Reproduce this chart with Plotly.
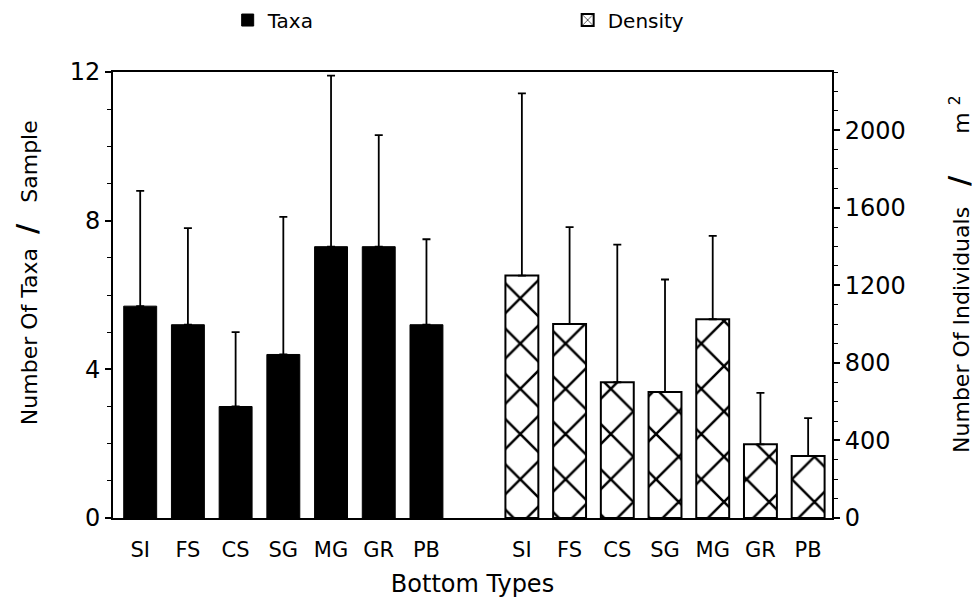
import plotly.graph_objects as go

categories = ["SI", "FS", "CS", "SG", "MG", "GR", "PB"]
taxa_mean = [5.7, 5.2, 3.0, 4.4, 7.3, 7.3, 5.2]
taxa_upper = [8.8, 7.8, 5.0, 8.1, 11.9, 10.3, 7.5]
density_mean = [1250, 1000, 700, 650, 1025, 380, 320]
density_upper = [2190, 1500, 1410, 1230, 1455, 645, 515]

taxa_x = list(range(0, 7))
dens_x = list(range(8, 15))

taxa_err = [u - m for u, m in zip(taxa_upper, taxa_mean)]
dens_err = [u - m for u, m in zip(density_upper, density_mean)]

FONT = "DejaVu Sans"
SP = "&nbsp;"
SLASH = "<span style='font-size:28px'><b>/</b></span>"

left_title = "Number Of Taxa" + SP * 2 + SLASH + SP * 3 + "Sample"
right_title = "Number Of Individuals" + SP * 3 + SLASH + SP * 6 + "m" + SP + "<sup>2</sup>"

fig = go.Figure()
fig.add_trace(go.Bar(
    x=taxa_x, y=taxa_mean, name="Taxa", width=0.69,
    marker=dict(color="black", line=dict(color="black", width=1)),
    error_y=dict(type="data", symmetric=False, array=taxa_err,
                 arrayminus=[0] * 7, color="black", thickness=1.8, width=4),
    yaxis="y",
))
fig.add_trace(go.Bar(
    x=dens_x, y=density_mean, name="Density", width=0.69,
    marker=dict(color="white", line=dict(color="black", width=2),
                pattern=dict(shape="x", size=32, solidity=0.15, fgopacity=1,
                             fgcolor="black", bgcolor="white")),
    error_y=dict(type="data", symmetric=False, array=dens_err,
                 arrayminus=[0] * 7, color="black", thickness=1.8, width=4),
    yaxis="y2",
))

fig.update_layout(
    width=972, height=602,
    margin=dict(l=105, r=148, t=64, b=92),
    paper_bgcolor="white", plot_bgcolor="white",
    barmode="overlay",
    showlegend=True,
    legend=dict(orientation="h", xref="container", yref="container",
                x=0.226, y=0.98, xanchor="left", yanchor="middle",
                font=dict(family=FONT, size=20, color="black"),
                entrywidth=295, entrywidthmode="pixels",
                itemclick=False, itemdoubleclick=False),
    xaxis=dict(
        range=[-0.57, 14.5], automargin=False,
        tickvals=taxa_x + dens_x,
        ticktext=categories + categories,
        tickfont=dict(family=FONT, size=21, color="black"),
        ticklabelstandoff=12,
        showline=True, linecolor="black", linewidth=2, mirror=True,
        ticks="", showgrid=False, zeroline=False,
        title=dict(text="Bottom Types", font=dict(family=FONT, size=24, color="black"),
                   standoff=14),
    ),
    yaxis=dict(
        range=[0, 12], tickvals=[0, 4, 8, 12], automargin=False,
        tickfont=dict(family=FONT, size=24, color="black"),
        showline=True, linecolor="black", linewidth=2,
        ticks="outside", ticklen=6, tickwidth=1.5, tickcolor="black",
        minor=dict(dtick=1, ticks="outside", ticklen=4, tickcolor="black", tickwidth=1),
        showgrid=False, zeroline=False,
    ),
    yaxis2=dict(
        range=[0, 2300], tickvals=[0, 400, 800, 1200, 1600, 2000],
        overlaying="y", side="right", anchor="x", automargin=False,
        tickfont=dict(family=FONT, size=24, color="black"),
        showline=True, linecolor="black", linewidth=2,
        ticks="outside", ticklen=6, tickwidth=1.5, tickcolor="black",
        minor=dict(dtick=100, ticks="outside", ticklen=4, tickcolor="black", tickwidth=1),
        showgrid=False, zeroline=False,
    ),
    annotations=[
        dict(text=left_title, textangle=-90, xref="paper", yref="paper",
             x=0, y=0.549, xanchor="center", yanchor="middle", xshift=-86,
             showarrow=False, font=dict(family=FONT, size=22, color="black")),
        dict(text=right_title, textangle=-90, xref="paper", yref="paper",
             x=1, y=0.545, xanchor="center", yanchor="middle", xshift=128,
             showarrow=False, font=dict(family=FONT, size=22, color="black")),
    ],
)

fig.write_html("out.html")
